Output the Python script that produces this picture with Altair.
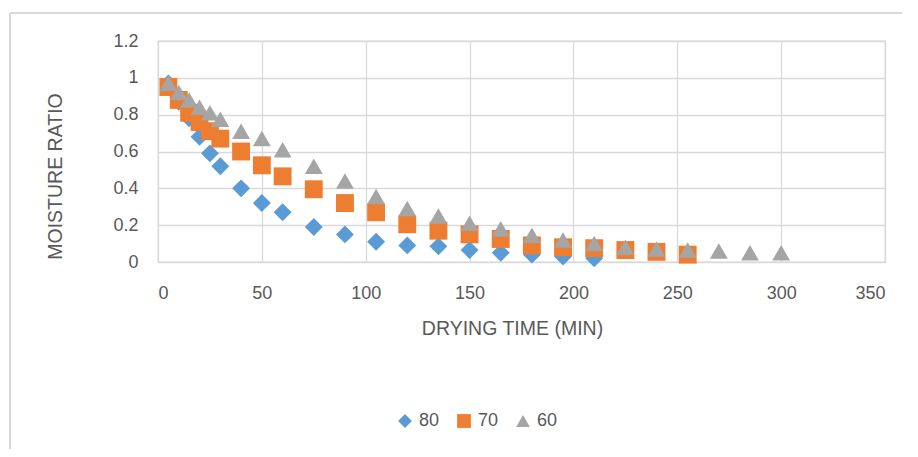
import altair as alt
import pandas as pd

series_names = ["80", "70", "60"]

t80 = [5, 10, 15, 20, 25, 30, 40, 50, 60, 75, 90, 105, 120, 135, 150, 165, 180, 195, 210]
v80 = [0.97, 0.87, 0.78, 0.68, 0.59, 0.52, 0.40, 0.32, 0.27, 0.19, 0.15, 0.11, 0.09, 0.085,
       0.065, 0.05, 0.04, 0.03, 0.02]

t70 = [5, 10, 15, 20, 25, 30, 40, 50, 60, 75, 90, 105, 120, 135, 150, 165, 180, 195, 210,
       225, 240, 255]
v70 = [0.95, 0.88, 0.81, 0.76, 0.71, 0.67, 0.60, 0.525, 0.465, 0.395, 0.32, 0.27, 0.205,
       0.17, 0.15, 0.125, 0.09, 0.08, 0.075, 0.065, 0.055, 0.04]

t60 = [5, 10, 15, 20, 25, 30, 40, 50, 60, 75, 90, 105, 120, 135, 150, 165, 180, 195, 210,
       225, 240, 255, 270, 285, 300]
v60 = [0.97, 0.92, 0.88, 0.84, 0.81, 0.775, 0.71, 0.67, 0.61, 0.52, 0.44, 0.355, 0.29, 0.25,
       0.21, 0.18, 0.145, 0.12, 0.10, 0.08, 0.07, 0.065, 0.06, 0.05, 0.05]

x_ticks = [0, 50, 100, 150, 200, 250, 300, 350]
y_ticks = [0, 0.2, 0.4, 0.6, 0.8, 1.0, 1.2]

colors = ["#5B9BD5", "#ED7D31", "#A5A5A5"]
shapes = ["diamond", "square", "triangle-up"]

rows = []
for name, ts, vs in zip(series_names, [t80, t70, t60], [v80, v70, v60]):
    for t, v in zip(ts, vs):
        rows.append({"series": name, "time": t, "mr": v})
df = pd.DataFrame(rows)

FONT = "Liberation Sans"
GRID = "#D9D9D9"
TXT = "#595959"

legend_cfg = dict(title=None, orient="none", direction="horizontal",
                  legendX=238, legendY=371, labelFontSize=18,
                  labelColor=TXT, labelFont=FONT, symbolSize=190,
                  symbolStrokeWidth=0, labelOffset=5, columnPadding=15)

points = alt.Chart(df).mark_point(filled=True, opacity=1, size=320, strokeWidth=0).encode(
    x=alt.X("time:Q",
            scale=alt.Scale(domain=[0, 350], nice=False),
            axis=alt.Axis(values=x_ticks, title="DRYING TIME (MIN)", grid=True,
                          gridColor=GRID, gridWidth=1.3, domain=False, ticks=False,
                          labelPadding=22, labelFontSize=18, labelColor=TXT, labelFont=FONT,
                          titleFont=FONT, titleFontSize=19.5, titleColor=TXT,
                          titleFontWeight="normal", titleY=66, titleX=354,
                          titleBaseline="middle")),
    y=alt.Y("mr:Q",
            scale=alt.Scale(domain=[0, 1.2], nice=False),
            axis=alt.Axis(values=y_ticks, title="MOISTURE RATIO", format="~g", grid=True,
                          gridColor=GRID, gridWidth=1.3, domain=False, ticks=False,
                          labelPadding=20, labelFontSize=18, labelColor=TXT, labelFont=FONT,
                          titleFont=FONT, titleFontSize=19.5, titleColor=TXT,
                          titleFontWeight="normal", titleX=-103, titleY=135,
                          titleBaseline="middle")),
    color=alt.Color("series:N",
                    scale=alt.Scale(domain=series_names, range=colors),
                    legend=alt.Legend(**legend_cfg)),
    shape=alt.Shape("series:N",
                    scale=alt.Scale(domain=series_names, range=shapes),
                    legend=alt.Legend(**legend_cfg)),
)

border_left = alt.Chart(df).mark_rule(color=GRID, strokeWidth=1.5, clip=False).encode(
    x=alt.value(-148), y=alt.value(-28), y2=alt.value(420))
border_top = alt.Chart(df).mark_rule(color=GRID, strokeWidth=1.5, clip=False).encode(
    x=alt.value(-148), x2=alt.value(760), y=alt.value(-28))

chart = alt.layer(border_left, border_top, points).properties(
    width=727, height=221,
    padding={"left": 150, "top": 33, "right": 17, "bottom": 187},
    autosize=alt.AutoSizeParams(type="none"),
    background="white",
).configure_view(stroke=GRID, strokeWidth=1.3)

chart.save("out.html", embed_options={"renderer": "svg", "actions": False})
